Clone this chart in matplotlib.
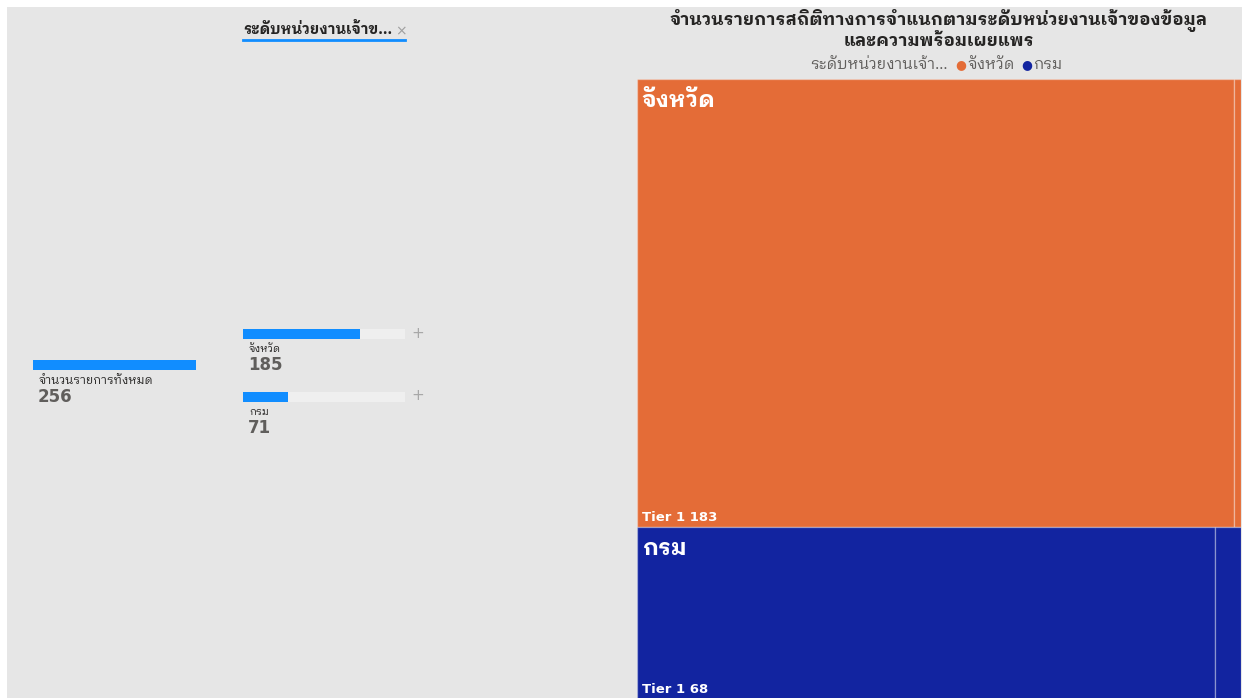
import matplotlib
matplotlib.use("Agg")
import matplotlib.pyplot as plt
from matplotlib import font_manager
from matplotlib.patches import Rectangle

# ข้อมูล
root_label = "จำนวนรายการทั้งหมด"
root_total = 256
level_title = "ระดับหน่วยงานเจ้าข..."
groups = ["จังหวัด", "กรม"]
group_totals = [185, 71]
tiers = ["Tier 1", "Tier 2"]
tier_values = [[183, 2], [68, 3]]
group_colors = ["#e46c37", "#1224a0"]
chart_title = "จำนวนรายการสถิติทางการจำแนกตามระดับหน่วยงานเจ้าของข้อมูล\nและความพร้อมเผยแพร"
legend_title = "ระดับหน่วยงานเจ้า..."

avail = {f.name for f in font_manager.fontManager.ttflist}
thai = [f for f in ["IBM Plex Sans Thai Looped", "IBM Plex Sans Thai", "Sarabun"] if f in avail]
plt.rcParams["font.family"] = thai[:1] + ["DejaVu Sans"]

W, H = 1242, 698
fig = plt.figure(figsize=(W / 100, H / 100), dpi=100, facecolor="white")


def fx(x):
    return x / W


def fy(y):
    return 1 - y / H


def axes_px(x0, y0, x1, y1):
    return fig.add_axes([fx(x0), fy(y1), fx(x1 - x0), (y1 - y0) / H])


# nền เทา
fig.patches.append(Rectangle((fx(7), 0), 1, fy(7), transform=fig.transFigure,
                             facecolor="#e6e6e6", edgecolor="none", zorder=-10))

dark = "#252423"
grey = "#605e5c"
blue_bar = "#118dff"

# ---- decomposition tree ----
ax = axes_px(33, 360, 196, 370)
ax.barh([0], [root_total], height=1, color=blue_bar)
ax.set_xlim(0, root_total)
ax.set_ylim(-0.5, 0.5)
ax.axis("off")
fig.text(fx(39), fy(380), root_label, fontsize=8.5, color=dark, va="center")
fig.text(fx(38), fy(397), str(root_total), fontsize=12, fontweight="bold",
         color=grey, va="center", family="DejaVu Sans")

fig.text(fx(243), fy(29), level_title, fontsize=10.5, fontweight="bold", color=dark, va="center")
fig.add_artist(plt.Line2D([fx(243), fx(405)], [fy(40), fy(40)], color=blue_bar, lw=2))
fig.text(fx(395), fy(31), "×", fontsize=10, color="#a0a0a0", va="center", family="DejaVu Sans")

bar_tops = [329, 392]
for g, tot, top in zip(groups, group_totals, bar_tops):
    ax = axes_px(243, top, 405, top + 10)
    ax.barh([0], [root_total], height=1, color="#efefef")
    ax.barh([0], [tot], height=1, color=blue_bar)
    ax.set_xlim(0, root_total)
    ax.set_ylim(-0.5, 0.5)
    ax.axis("off")
    fig.text(fx(411), fy(top + 4), "+", fontsize=11, color="#a8a8a8", va="center",
             family="DejaVu Sans")
    fig.text(fx(249), fy(top + 20), g, fontsize=7.5, color=dark, va="center")
    fig.text(fx(248), fy(top + 36), str(tot), fontsize=12, fontweight="bold",
             color=grey, va="center", family="DejaVu Sans")

# ---- treemap ----
fig.text(fx(939), fy(29), chart_title, fontsize=12.6, fontweight="bold", color=dark,
         ha="center", va="center", linespacing=1.1)
fig.text(fx(948), fy(65), legend_title, fontsize=11, color=grey, ha="right", va="center")
lx = [955, 1021]
for g, c, x in zip(groups, group_colors, lx):
    fig.text(fx(x), fy(65), "●", fontsize=9, color=c, va="center", family="DejaVu Sans")
    fig.text(fx(x + 12), fy(65), g, fontsize=11, color=grey, va="center")

ax = axes_px(637, 79, 1241, 699)
ax.set_xlim(0, 1)
ax.set_ylim(root_total, 0)
ax.axis("off")
y0 = 0
for g, tot, vals, c in zip(groups, group_totals, tier_values, group_colors):
    s = sum(vals)
    x0 = 0
    for t, v in zip(tiers, vals):
        w = v / s
        ax.add_patch(Rectangle((x0, y0), w, tot, facecolor=c,
                               edgecolor=(1, 1, 1, 0.3), lw=1))
        if w > 0.5:
            ax.text(x0 + 0.008, y0 + tot - 1.4, "%s %d" % (t, v), fontsize=9.5,
                    fontweight="bold", color="white", va="bottom", family="DejaVu Sans")
        x0 += w
    ax.text(0.008, y0 + 4.5, g, fontsize=16.5, fontweight="bold", color="white", va="top")
    y0 += tot

fig.savefig("out.png", dpi=100, facecolor=fig.get_facecolor())
